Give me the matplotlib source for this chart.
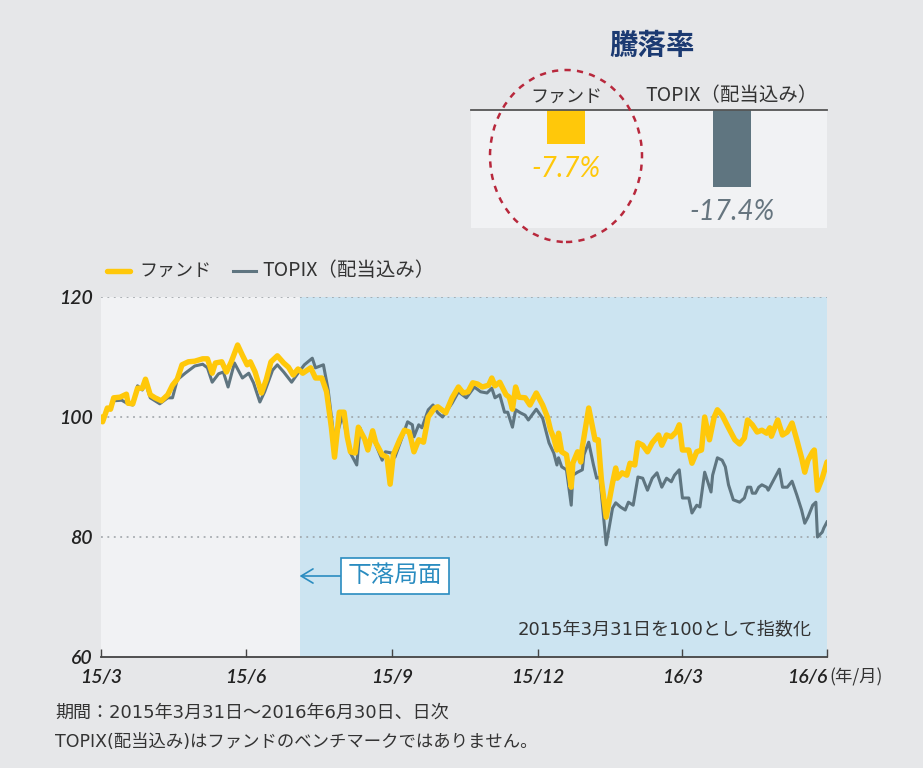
import numpy as np
import pandas as pd
import matplotlib
matplotlib.use("Agg")
import matplotlib.pyplot as plt
from matplotlib.patches import Ellipse

plt.rcParams['font.family'] = ['Noto Sans CJK JP', 'DejaVu Sans']

# ---------------- data ----------------
start_date = "2015-03-31"
shade_start_day = 125  # start of the falling phase (days after start)

fund_days = [0, 1, 4, 6, 8, 12, 16, 17, 20, 23, 26, 28, 31, 34, 38, 42, 45, 48, 51, 55,
             59, 64, 67, 70, 72, 76, 79, 82, 86, 89, 92, 94, 97, 101, 104, 107, 111, 115,
             118, 121, 124, 127, 132, 135, 139, 142, 145, 147, 150, 153, 155, 157, 160,
             162, 166, 168, 171, 173, 177, 180, 182, 184, 188, 191, 194, 195, 197, 200,
             203, 206, 210, 212, 217, 221, 225, 228, 231, 234, 237, 240, 244, 246, 248,
             251, 255, 257, 259, 261, 263, 267, 270, 274, 278, 281, 283, 285, 287, 288,
             290, 293, 296, 297, 300, 302, 303, 307, 311, 313, 315, 318, 322, 324, 325,
             328, 331, 333, 336, 338, 341, 344, 347, 351, 353, 356, 359, 362, 364, 366,
             370, 372, 375, 378, 380, 383, 386, 388, 391, 395, 399, 402, 405, 407, 410,
             413, 416, 419, 421, 422, 426, 429, 432, 435, 438, 441, 443, 445, 448, 449,
             451, 454, 457]
fund_vals = [100.0, 99.2, 101.5, 101.3, 103.2, 103.3, 103.8, 102.3, 102.2, 104.8, 104.8,
             106.3, 103.7, 103.2, 102.7, 103.7, 105.3, 106.3, 108.7, 109.2, 109.3, 109.7,
             109.7, 107.3, 109.0, 109.2, 107.5, 109.2, 112.0, 110.3, 108.7, 109.2, 107.5,
             104.0, 106.2, 109.2, 110.2, 109.0, 108.3, 107.0, 108.0, 107.3, 108.2, 106.5,
             106.5, 104.2, 98.3, 93.3, 100.8, 100.8, 96.7, 94.2, 94.0, 98.3, 96.3, 94.5,
             97.7, 95.7, 93.7, 93.3, 88.8, 93.7, 96.2, 97.8, 97.5, 96.5, 94.2, 96.2, 95.8,
             100.0, 101.5, 101.7, 100.7, 103.2, 105.0, 104.0, 104.2, 105.7, 105.5, 105.0,
             105.3, 106.5, 105.2, 105.8, 103.7, 103.3, 101.3, 105.0, 103.3, 103.2, 102.0,
             104.0, 102.0, 100.0, 97.8, 96.5, 94.5, 97.3, 94.2, 93.7, 88.3, 92.3, 94.2,
             92.5, 95.0, 101.5, 96.2, 96.2, 89.5, 83.3, 89.0, 91.5, 89.8, 90.7, 90.3, 92.3,
             92.0, 95.7, 95.3, 94.2, 95.7, 97.0, 95.3, 97.0, 96.7, 97.5, 98.7, 94.5, 94.5,
             92.3, 94.2, 94.5, 100.0, 96.2, 100.0, 101.2, 100.3, 98.2, 96.2, 95.5, 96.5,
             99.5, 98.7, 97.5, 97.8, 97.3, 98.2, 96.8, 99.5, 97.0, 97.5, 99.0, 96.2, 93.2,
             90.8, 92.8, 94.2, 94.5, 87.8, 89.8, 92.5]

topix_days = [0, 1, 4, 6, 8, 13, 17, 20, 23, 26, 28, 31, 34, 37, 42, 45, 48, 53, 59, 64,
              67, 70, 74, 77, 80, 84, 89, 93, 96, 100, 103, 108, 111, 115, 120, 124, 128,
              133, 135, 140, 143, 147, 152, 157, 161, 163, 168, 171, 177, 179, 183, 185,
              189, 193, 196, 197, 200, 202, 206, 209, 212, 215, 221, 225, 230, 235, 239,
              243, 246, 248, 251, 254, 256, 259, 261, 264, 267, 269, 274, 278, 282, 285,
              287, 288, 290, 293, 296, 297, 300, 303, 304, 307, 310, 312, 314, 318, 322,
              324, 327, 330, 332, 335, 338, 341, 344, 347, 350, 353, 356, 359, 361, 364,
              366, 370, 372, 375, 377, 380, 384, 385, 388, 391, 393, 395, 398, 402, 405,
              407, 409, 410, 412, 414, 416, 419, 420, 422, 424, 427, 429, 432, 435, 438,
              441, 443, 445, 448, 450, 451, 454, 455, 457]
topix_vals = [100.0, 99.3, 101.3, 101.2, 102.7, 102.8, 102.2, 102.0, 105.2, 104.5, 105.7,
              103.2, 102.7, 102.2, 103.2, 103.2, 106.2, 107.3, 108.5, 108.8, 108.2, 105.8,
              107.2, 107.5, 105.0, 109.0, 106.5, 107.3, 105.7, 102.5, 104.2, 107.8, 108.7,
              107.5, 105.8, 107.3, 108.7, 109.8, 108.2, 108.7, 104.5, 95.7, 100.3, 94.0,
              92.0, 98.2, 94.5, 96.7, 92.8, 94.2, 94.0, 93.3, 96.2, 99.2, 98.7, 96.7, 98.7,
              98.2, 101.2, 102.0, 100.7, 100.0, 102.3, 104.2, 103.2, 105.0, 104.2, 104.0,
              104.8, 103.2, 103.7, 100.8, 100.8, 98.3, 101.2, 100.7, 100.3, 99.5, 101.3,
              99.8, 95.7, 94.0, 92.0, 93.2, 91.7, 91.2, 85.3, 90.3, 90.8, 91.2, 93.7, 95.8,
              92.0, 89.8, 90.0, 78.7, 84.8, 85.7, 85.0, 84.5, 85.8, 85.3, 90.0, 89.8, 87.8,
              89.8, 90.7, 88.3, 89.8, 89.2, 90.3, 91.2, 86.5, 86.5, 84.0, 85.3, 85.0, 90.8,
              87.5, 90.3, 93.2, 92.8, 91.7, 88.7, 86.2, 85.8, 86.5, 88.3, 88.3, 87.3, 87.3,
              88.3, 88.7, 88.3, 87.8, 88.8, 89.8, 91.3, 88.3, 88.3, 89.3, 87.0, 84.5, 82.3,
              83.3, 85.3, 85.8, 80.0, 80.8, 81.5, 82.5]

tick_dates = ["2015-03-31", "2015-06-30", "2015-09-30", "2015-12-31", "2016-03-31", "2016-06-30"]
tick_labels = ["15/3", "15/6", "15/9", "15/12", "16/3", "16/6"]
y_ticks = [60, 80, 100, 120]

bar_labels = ["ファンド", "TOPIX（配当込み）"]
bar_values = [-7.7, -17.4]

series_names = ["ファンド", "TOPIX（配当込み）"]

# ---------------- styles ----------------
BG = "#e6e7e9"
PANEL = "#f1f2f4"
BLUE_BG = "#cce4f1"
YELLOW = "#ffc80a"
SLATE = "#5f7580"
TXT = "#333333"
NUM_FONT = ["Lato", "DejaVu Sans"]
MIX_FONT = ["DejaVu Sans", "Noto Sans CJK JP"]

t0 = pd.Timestamp(start_date)
fund_x = t0 + pd.to_timedelta(fund_days, unit="D")
topix_x = t0 + pd.to_timedelta(topix_days, unit="D")
shade_x = t0 + pd.Timedelta(days=shade_start_day)
ticks_x = pd.to_datetime(tick_dates)

W, H = 923, 768
fig = plt.figure(figsize=(W / 100, H / 100), dpi=100)
fig.patch.set_facecolor(BG)

def fx(px):
    return px / W

def fy(py):
    return 1 - py / H

ax = fig.add_axes([fx(101), fy(657), fx(827) - fx(101), fy(297) - fy(657)])
ax.set_facecolor(PANEL)
ax.set_xlim(ticks_x[0], ticks_x[-1])
ax.set_ylim(60, 120)
ax.axvspan(shade_x, ticks_x[-1], color=BLUE_BG, zorder=0, lw=0)

for v in y_ticks[1:]:
    ax.axhline(v, color="#9a9fa4", lw=1.1, ls=(0, (1.2, 3)), zorder=1)

ax.plot(topix_x, topix_vals, color=SLATE, lw=2.2, zorder=3, solid_joinstyle="round")
ax.plot(fund_x, fund_vals, color=YELLOW, lw=3.9, zorder=4, solid_joinstyle="round",
        solid_capstyle="round")

for s in ["top", "right", "left"]:
    ax.spines[s].set_visible(False)
ax.spines["bottom"].set_color("#444444")
ax.spines["bottom"].set_linewidth(1.3)

ax.set_xticks(ticks_x)
xl = ax.set_xticklabels(tick_labels, fontfamily=NUM_FONT, fontstyle="italic",
                        fontweight="semibold", fontsize=14, color="#222222")
xl[-1].set_ha("right")
ax.tick_params(axis="x", direction="in", length=6, width=1.0, color="#444444", pad=9)
ax.set_yticks(y_ticks)
ax.set_yticklabels([str(v) for v in y_ticks], fontfamily=NUM_FONT, fontstyle="italic",
                   fontweight="semibold", fontsize=14, color="#222222")
ax.tick_params(axis="y", length=0, pad=6)

# unit label
fig.text(fx(829), fy(677), "(年/月)", fontsize=12.5, color=TXT, ha="left", va="center")

# annotation box
ax.annotate("下落局面", xy=(shade_x, 73.5),
            xytext=(t0 + pd.Timedelta(days=185), 73.5),
            fontsize=17, color="#2a8cc0", ha="center", va="center",
            bbox=dict(boxstyle="square,pad=0.28", fc="white", ec="#2a8cc0", lw=1.2),
            arrowprops=dict(arrowstyle="->,head_length=0.5,head_width=0.3",
                            color="#2a8cc0", lw=1.2, shrinkA=0, shrinkB=0),
            zorder=6)

ax.text(t0 + pd.Timedelta(days=447), 64.5, "2015年3月31日を100として指数化",
        fontsize=13, family=MIX_FONT, color=TXT, ha="right", va="center", zorder=6)

# legend
fig.add_artist(plt.Line2D([fx(107), fx(130)], [fy(271), fy(271)], color=YELLOW, lw=3.9,
                          transform=fig.transFigure, solid_capstyle="round"))
fig.text(fx(139), fy(271), series_names[0], fontsize=13, color=TXT, va="center")
fig.add_artist(plt.Line2D([fx(233), fx(256)], [fy(271), fy(271)], color=SLATE, lw=2.2,
                          transform=fig.transFigure))
fig.text(fx(262), fy(271), series_names[1], fontsize=14, color=TXT, va="center")

# notes
fig.text(fx(55), fy(713), "期間：2015年3月31日～2016年6月30日、日次", fontsize=13,
         family=MIX_FONT, color=TXT, va="center")
fig.text(fx(55), fy(742), "TOPIX(配当込み)はファンドのベンチマークではありません。",
         fontsize=12.5, family=MIX_FONT, color=TXT, va="center")

# ---------------- inset bar chart ----------------
iax = fig.add_axes([fx(471), fy(228), fx(827) - fx(471), fy(110) - fy(228)])
iax.set_facecolor(PANEL)
iax.set_xlim(-0.572, 1.572)
iax.set_ylim(-26.5, 0)
xpos = np.arange(len(bar_values))
iax.bar(xpos, bar_values, width=0.229, color=[YELLOW, SLATE], zorder=2)
for s in ["bottom", "right", "left"]:
    iax.spines[s].set_visible(False)
iax.spines["top"].set_color("#555555")
iax.spines["top"].set_linewidth(1.3)
iax.set_xticks([])
iax.set_yticks([])
val_colors = [YELLOW, "#66757f"]
label_sizes = [13, 14]
for i, v in enumerate(bar_values):
    iax.text(xpos[i], v - 5.6, f"{v:.1f}%", ha="center", va="center", fontsize=20,
             fontstyle="italic", family=NUM_FONT, color=val_colors[i])
    iax.text(xpos[i], 0.9, bar_labels[i], ha="center", va="bottom", fontsize=label_sizes[i],
             color=TXT, clip_on=False)

fig.text(fx(652), fy(46), "騰落率", fontsize=20.5, fontweight="bold", color="#1b3a72",
         ha="center", va="center")

ell = Ellipse((fx(566), fy(156)), fx(152), 172 / H, transform=fig.transFigure,
              fill=False, ec="#b8283c", lw=1.8, ls=(0, (2.5, 2.5)), zorder=10)
fig.add_artist(ell)

fig.savefig("out.png", dpi=100, facecolor=fig.get_facecolor())
